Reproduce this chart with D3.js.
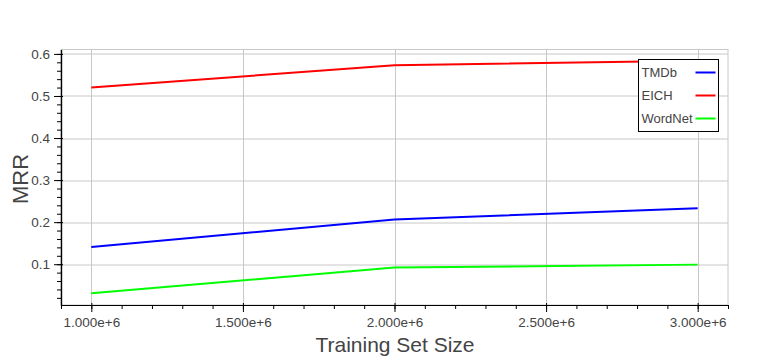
<!DOCTYPE html>
<html>
<head>
<meta charset="utf-8">
<script src="https://cdn.jsdelivr.net/npm/d3@7"></script>
<style>
  body { margin: 0; background: #fff; }
  text { font-family: "Liberation Sans", Helvetica, Arial, sans-serif; fill: #444; }
</style>
</head>
<body>
<div id="chart"></div>
<script>
// Data
var sizes = [1000000, 2000000, 3000000];
var seriesNames = ["TMDb", "EICH", "WordNet"];
var seriesColors = ["#0000ff", "#ff0000", "#00ff00"];
var tmdb = [0.141, 0.206, 0.233];
var eich = [0.520, 0.573, 0.584];
var wordnet = [0.031, 0.092, 0.099];
var xTicks = [1000000, 1500000, 2000000, 2500000, 3000000];
var yTicks = [0.1, 0.2, 0.3, 0.4, 0.5, 0.6];

var svgWidth = 778, svgHeight = 363;
var margin = {top: 49.5, right: 50, bottom: 58, left: 61};
var width = svgWidth - margin.left - margin.right;
var height = svgHeight - margin.top - margin.bottom;

var svg = d3.select("#chart").append("svg")
  .attr("width", svgWidth)
  .attr("height", svgHeight);

var chartGroup = svg.append("g")
  .attr("transform", `translate(${margin.left}, ${margin.top})`);

var x = d3.scaleLinear().domain([900000, 3100000]).range([0, width]);
var y = d3.scaleLinear().domain([0.003, 0.6105]).range([height, 0]);

// plot outline
chartGroup.append("rect")
  .attr("x", 0).attr("y", 0)
  .attr("width", width).attr("height", height)
  .attr("fill", "none")
  .attr("stroke", "#c8c8c8")
  .attr("stroke-width", 1);

// grid
chartGroup.append("g").selectAll("line").data(xTicks).enter()
  .append("line")
  .attr("x1", d => Math.round(x(d)) + 0.5).attr("x2", d => Math.round(x(d)) + 0.5)
  .attr("y1", 0).attr("y2", height)
  .attr("stroke", "#c8c8c8");

chartGroup.append("g").selectAll("line").data(yTicks).enter()
  .append("line")
  .attr("y1", d => Math.round(y(d)) + 0.5).attr("y2", d => Math.round(y(d)) + 0.5)
  .attr("x1", 0).attr("x2", width)
  .attr("stroke", "#c8c8c8");

// axes
var fmt = d => d3.format(".3e")(d);
var xAxis = d3.axisBottom(x).tickValues(xTicks).tickFormat(fmt).tickSizeInner(7).tickSizeOuter(0).tickPadding(5);
var xMinor = d3.axisBottom(x).tickValues(d3.range(900000, 3100001, 100000)).tickFormat("").tickSizeInner(4).tickSizeOuter(0);
var yAxis = d3.axisLeft(y).tickValues(yTicks).tickFormat(d3.format(".1f")).tickSizeInner(7).tickSizeOuter(0).tickPadding(4);
var yMinor = d3.axisLeft(y).tickValues(d3.range(0.02, 0.61, 0.02)).tickFormat("").tickSizeInner(4).tickSizeOuter(0);

function styleAxis(g) {
  g.select(".domain").attr("stroke", "#000").attr("stroke-width", 1.2);
  g.selectAll(".tick line").attr("stroke", "#000");
  g.selectAll("text").attr("font-size", "13.5px").attr("fill", "#444")
    .attr("font-family", "'Liberation Sans', Helvetica, Arial, sans-serif");
}

chartGroup.append("g").attr("transform", `translate(0, ${height})`).call(xMinor).call(styleAxis);
chartGroup.append("g").attr("transform", `translate(0, ${height})`).call(xAxis).call(styleAxis)
  .selectAll(".tick line").attr("y1", -2);
chartGroup.append("g").call(yMinor).call(styleAxis);
chartGroup.append("g").call(yAxis).call(styleAxis)
  .selectAll(".tick line").attr("x1", 2);

// lines
var allSeries = [tmdb, eich, wordnet];
var line = d3.line().x((d, i) => x(sizes[i])).y(d => y(d));

chartGroup.selectAll("path.series").data(allSeries).enter()
  .append("path")
  .attr("class", "series")
  .attr("d", d => line(d))
  .attr("fill", "none")
  .attr("stroke", (d, i) => seriesColors[i])
  .attr("stroke-width", 2);

// legend
var legend = svg.append("g").attr("transform", "translate(638.5, 59.5)");
legend.append("rect")
  .attr("width", 80).attr("height", 72)
  .attr("fill", "#fff").attr("stroke", "#000").attr("stroke-width", 1);

var items = legend.selectAll("g.item").data(seriesNames).enter()
  .append("g").attr("class", "item")
  .attr("transform", (d, i) => `translate(0, ${13 + i * 23})`);
items.append("text")
  .attr("x", 3).attr("y", 0).attr("dy", "0.35em")
  .attr("font-size", "13px")
  .text(d => d);
items.append("line")
  .attr("x1", 57).attr("x2", 77).attr("y1", 0).attr("y2", 0)
  .attr("stroke", (d, i) => seriesColors[i])
  .attr("stroke-width", 2);

// axis titles
svg.append("text")
  .attr("x", 395)
  .attr("y", 352)
  .attr("text-anchor", "middle")
  .attr("font-size", "21px")
  .text("Training Set Size");

svg.append("text")
  .attr("transform", "rotate(-90)")
  .attr("x", -179)
  .attr("y", 28)
  .attr("text-anchor", "middle")
  .attr("font-size", "22px")
  .text("MRR");
</script>
</body>
</html>
